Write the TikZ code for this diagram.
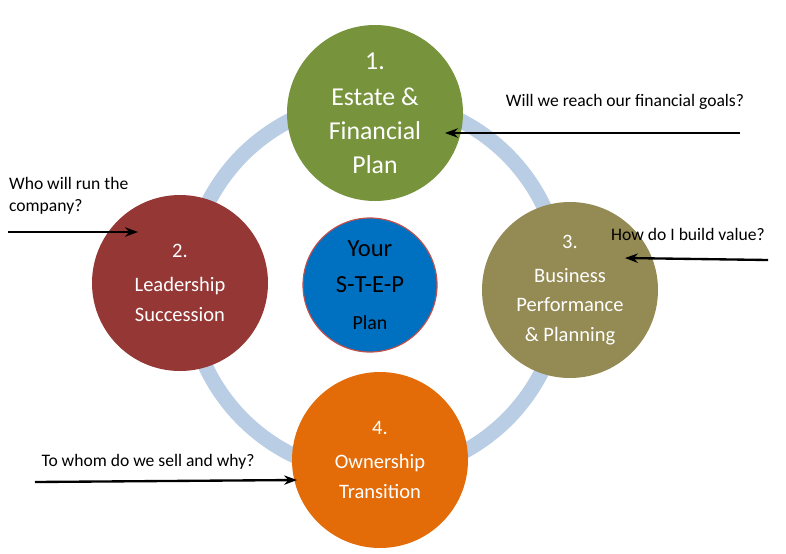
\documentclass[tikz,border=0pt]{standalone}
\usepackage{fontspec}
\setmainfont{Carlito}
\usetikzlibrary{arrows.meta, positioning}
\definecolor{ringblue}{HTML}{B9CDE5}
\definecolor{stepgreen}{HTML}{77933C}
\definecolor{stepred}{HTML}{953735}
\definecolor{stepolive}{HTML}{948A54}
\definecolor{steporange}{HTML}{E36C09}
\definecolor{stepblue}{HTML}{0070C0}
\definecolor{planrim}{RGB}{192,80,77}
\begin{document}
\begin{tikzpicture}[x=0.03cm, y=-0.03cm,
    stepcircle/.style={circle, minimum size=176*0.03cm, inner sep=0pt, text=white, align=center, font=\fontsize{17.5}{25}\selectfont},
    question/.style={font=\fontsize{15}{19}\selectfont, align=left},
    pointer/.style={-{Stealth[length=11pt,width=8pt]}, line width=2pt}]

%%% Rahmen
\useasboundingbox (0,0) rectangle (786,553);

%%% Ring
\draw[ringblue, line width=15*0.03cm] (375,287) circle[radius=187];

%%% Kreise
\node[stepcircle, fill=stepgreen, font=\fontsize{22}{29}\selectfont] (estate) at (375,113)
  {1.\\[2pt] Estate \&\\ Financial\\ Plan};
\node[stepcircle, fill=stepred] (leader) at (180,283) {2.\\[4pt] Leadership\\ Succession};
\node[stepcircle, fill=stepolive] (business) at (570,290) {3.\\[4pt] Business\\ Performance\\ \& Planning};
\node[stepcircle, fill=steporange] (owner) at (380,460) {4.\\[4pt] Ownership\\ Transition};
\node[circle, minimum size=134*0.03cm, fill=stepblue, draw=planrim, line width=1pt, align=center,
      font=\fontsize{21}{31}\selectfont] (plan) at (370,285)
  {Your\\ S-T-E-P\\ {\fontsize{17}{22}\selectfont Plan}};

%%% Fragen
\coordinate (qa) at (740,133);
\coordinate (qb) at (8,232);
\coordinate (qc) at (768,260);
\coordinate (qd) at (35,482);
\coordinate (ta) at (445,133);
\coordinate (tb) at (138,232);
\coordinate (tc) at (625,258);
\coordinate (td) at (297,480);
\node[question] (goals) at (625,102) {Will we reach our financial goals?};
\node[question, anchor=north west] (run) at (5,173) {Who will run the\\company?};
\node[question] (value) at (688,234) {How do I build value?};
\node[question] (sell) at (148,462) {To whom do we sell and why?};

%%% Pfeile
\draw[pointer] (qa) -- (ta);
\draw[pointer] (qb) -- (tb);
\draw[pointer] (qc) -- (tc);
\draw[pointer] (qd) -- (td);
\end{tikzpicture}
\end{document}
